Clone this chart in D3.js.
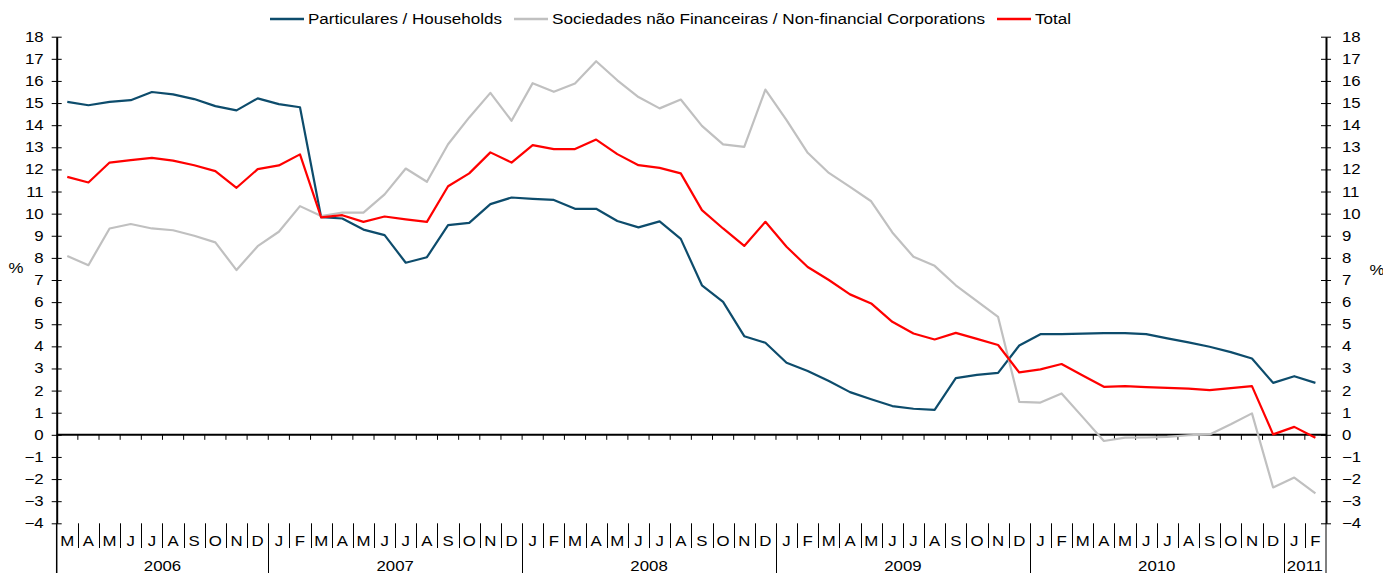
<!DOCTYPE html>
<html>
<head>
<meta charset="utf-8">
<script src="https://cdn.jsdelivr.net/npm/d3@7"></script>
<style>
  body { margin: 0; background: #fff; }
  svg text { font-family: "Liberation Sans", Arial, sans-serif; fill: #000; font-size: 14px; }
</style>
</head>
<body>
<div id="chart"></div>
<script>
// months from March 2006 to February 2011
var monthLabels = ["M","A","M","J","J","A","S","O","N","D",
  "J","F","M","A","M","J","J","A","S","O","N","D",
  "J","F","M","A","M","J","J","A","S","O","N","D",
  "J","F","M","A","M","J","J","A","S","O","N","D",
  "J","F","M","A","M","J","J","A","S","O","N","D",
  "J","F"];
var years = ["2006", "2007", "2008", "2009", "2010", "2011"];
var yearMonths = [10, 12, 12, 12, 12, 2];

var households = [15.05, 14.9, 15.05, 15.13, 15.5, 15.39, 15.18, 14.86, 14.67, 15.21,
  14.95, 14.81, 9.84, 9.78, 9.28, 9.03, 7.78, 8.03, 9.48, 9.58, 10.43, 10.73,
  10.67, 10.62, 10.22, 10.22, 9.67, 9.38, 9.65, 8.86, 6.76, 6.01, 4.46, 4.16,
  3.26, 2.89, 2.43, 1.93, 1.61, 1.30, 1.18, 1.13, 2.56, 2.71, 2.80, 4.04,
  4.55, 4.55, 4.58, 4.60, 4.60, 4.55, 4.36, 4.18, 3.98, 3.74, 3.45, 2.35,
  2.65, 2.35];
var corporations = [8.09, 7.67, 9.33, 9.53, 9.33, 9.25, 9.0, 8.70, 7.45, 8.53,
  9.18, 10.34, 9.89, 10.05, 10.05, 10.87, 12.04, 11.44, 13.14, 14.35, 15.46, 14.20,
  15.90, 15.51, 15.88, 16.89, 16.03, 15.27, 14.76, 15.16, 13.97, 13.13, 13.02, 15.61,
  14.23, 12.75, 11.84, 11.21, 10.56, 9.15, 8.05, 7.64, 6.76, 6.04, 5.33, 1.49,
  1.46, 1.87, 0.8, -0.28, -0.13, -0.12, -0.09, -0.02, 0.02, 0.48, 0.97, -2.38,
  -1.93, -2.65];
var total = [11.66, 11.41, 12.31, 12.42, 12.52, 12.40, 12.19, 11.92, 11.17, 12.01,
  12.18, 12.68, 9.83, 9.93, 9.63, 9.87, 9.74, 9.63, 11.24, 11.82, 12.77, 12.31,
  13.10, 12.92, 12.92, 13.35, 12.69, 12.19, 12.07, 11.82, 10.16, 9.33, 8.54, 9.63,
  8.50, 7.59, 7.00, 6.35, 5.94, 5.11, 4.58, 4.31, 4.61, 4.34, 4.06, 2.82,
  2.96, 3.20, 2.68, 2.17, 2.20, 2.16, 2.12, 2.09, 2.02, 2.11, 2.20, 0.02,
  0.36, -0.13];

var series = [
  { name: "Particulares / Households", values: households, color: "#0d4c6c" },
  { name: "Sociedades não Financeiras / Non-financial Corporations", values: corporations, color: "#c0c0c0" },
  { name: "Total", values: total, color: "#ff0000" }
];
var legendX = [270, 514, 997];
var legendTextW = [194, 433, 36];

var width = 1383, height = 573;
var plotLeft = 56.7, plotRight = 1326, plotTop = 36.7, plotBottom = 523.3;
var stretch = "scale(1.2,1)";

var svg = d3.select("#chart").append("svg")
  .attr("width", width)
  .attr("height", height);

var x = d3.scaleBand().domain(d3.range(monthLabels.length)).range([plotLeft, plotRight]);
var y = d3.scaleLinear().domain([-4, 18]).range([plotBottom, plotTop]);
var yTicks = d3.range(-4, 19);

// left axis
var yLeft = svg.append("g")
  .attr("transform", "translate(" + plotLeft + ",0)")
  .call(d3.axisLeft(y).tickValues(yTicks).tickSize(5).tickSizeOuter(0));
yLeft.select(".domain").attr("stroke-width", 2);
yLeft.selectAll(".tick line").attr("x1", -5).attr("x2", 5);
yLeft.selectAll(".tick text").attr("x", 0).attr("font-size", null)
  .attr("transform", "translate(-13,0) " + stretch);

// right axis
var yRight = svg.append("g")
  .attr("transform", "translate(" + plotRight + ",0)")
  .call(d3.axisRight(y).tickValues(yTicks).tickSize(5).tickSizeOuter(0));
yRight.select(".domain").attr("stroke-width", 2);
yRight.selectAll(".tick line").attr("x1", -5).attr("x2", 5);
yRight.selectAll(".tick text").attr("x", 0)
  .attr("transform", "translate(16,0) " + stretch);
svg.selectAll(".tick text").attr("font-family", null).style("font-size", "14px");

svg.append("text").attr("transform", "translate(16,273) " + stretch)
  .attr("text-anchor", "middle").text("%");
svg.append("text").attr("transform", "translate(1377,275) " + stretch)
  .attr("text-anchor", "middle").text("%");

// zero line with small month ticks
svg.append("line")
  .attr("x1", plotLeft).attr("x2", plotRight)
  .attr("y1", y(0)).attr("y2", y(0))
  .attr("stroke", "#000").attr("stroke-width", 2);
svg.append("g").selectAll("line")
  .data(d3.range(1, monthLabels.length))
  .join("line")
  .attr("x1", d => x(d)).attr("x2", d => x(d))
  .attr("y1", y(0)).attr("y2", y(0) + 5)
  .attr("stroke", "#000").attr("stroke-width", 1);

// month labels and separators
var labelG = svg.append("g");
labelG.selectAll("text.month")
  .data(monthLabels)
  .join("text")
  .attr("class", "month")
  .attr("transform", (d, i) => "translate(" + (x(i) + x.bandwidth() / 2) + ",546) " + stretch)
  .attr("text-anchor", "middle")
  .text(d => d);

var starts = [];
var acc = 0;
yearMonths.forEach(function (n) { starts.push(acc); acc += n; });

labelG.selectAll("line.sep")
  .data(d3.range(1, monthLabels.length))
  .join("line")
  .attr("class", "sep")
  .attr("x1", d => Math.round(x(d)) + 0.5).attr("x2", d => Math.round(x(d)) + 0.5)
  .attr("y1", plotBottom).attr("y2", d => starts.indexOf(d) >= 0 ? height : 548)
  .attr("stroke", "#000").attr("stroke-width", 1);

// axis lines continue down through the labels
svg.append("line").attr("x1", plotLeft).attr("x2", plotLeft).attr("y1", plotBottom).attr("y2", height)
  .attr("stroke", "#000").attr("stroke-width", 1.5);
svg.append("line").attr("x1", plotRight).attr("x2", plotRight).attr("y1", plotBottom).attr("y2", height)
  .attr("stroke", "#000").attr("stroke-width", 1);

labelG.selectAll("text.year")
  .data(years)
  .join("text")
  .attr("class", "year")
  .attr("transform", (d, i) => {
    var a = x(starts[i]);
    var b = i < years.length - 1 ? x(starts[i + 1]) : plotRight;
    return "translate(" + ((a + b) / 2) + ",571) " + stretch;
  })
  .attr("text-anchor", "middle")
  .text(d => d);

// lines
var line = d3.line()
  .x((d, i) => x(i) + x.bandwidth() / 2)
  .y(d => y(d));

svg.append("g").selectAll("path")
  .data(series)
  .join("path")
  .attr("d", d => line(d.values))
  .attr("fill", "none")
  .attr("stroke", d => d.color)
  .attr("stroke-width", 2.2)
  .attr("stroke-linejoin", "round");

// legend
var legend = svg.append("g").selectAll("g")
  .data(series)
  .join("g")
  .attr("transform", (d, i) => "translate(" + legendX[i] + ",19)");
legend.append("line")
  .attr("x1", 0).attr("x2", 34)
  .attr("stroke", d => d.color).attr("stroke-width", 2.5);
legend.append("text")
  .attr("x", 38).attr("y", 5)
  .attr("textLength", (d, i) => legendTextW[i])
  .attr("lengthAdjust", "spacingAndGlyphs")
  .text(d => d.name);
</script>
</body>
</html>
